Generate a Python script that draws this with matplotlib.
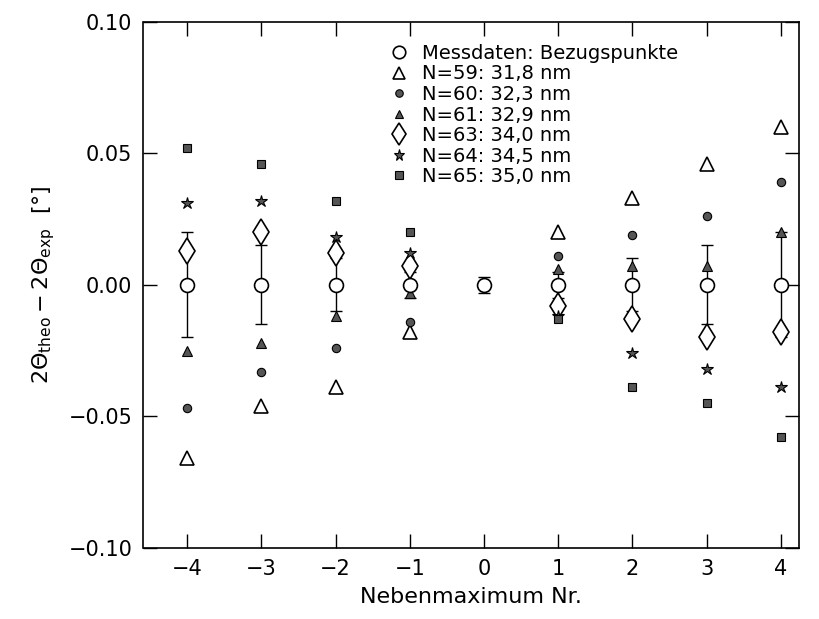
import numpy as np
import matplotlib
matplotlib.use('Agg')
import matplotlib.pyplot as plt

plt.rcParams['font.family'] = ['DejaVu Sans']
plt.rcParams['mathtext.fontset'] = 'dejavusans'

# Messdaten (Bezugspunkte)
x_meas = [-4, -3, -2, -1, 0, 1, 2, 3, 4]
y_meas = [0, 0, 0, 0, 0, 0, 0, 0, 0]
err_meas = [0.020, 0.015, 0.010, 0.005, 0.003, 0.005, 0.010, 0.015, 0.020]

# theoretische Werte
x_theo = [-4, -3, -2, -1, 1, 2, 3, 4]
n59 = [-0.066, -0.046, -0.039, -0.018, 0.020, 0.033, 0.046, 0.060]
n60 = [-0.047, -0.033, -0.024, -0.014, 0.011, 0.019, 0.026, 0.039]
n61 = [-0.025, -0.022, -0.012, -0.003, 0.006, 0.007, 0.007, 0.020]
n63 = [0.013, 0.020, 0.012, 0.007, -0.008, -0.013, -0.020, -0.018]
n64 = [0.031, 0.032, 0.018, 0.012, -0.012, -0.026, -0.032, -0.039]
n65 = [0.052, 0.046, 0.032, 0.020, -0.013, -0.039, -0.045, -0.058]

labels = ['Messdaten: Bezugspunkte', 'N=59: 31,8 nm', 'N=60: 32,3 nm',
          'N=61: 32,9 nm', 'N=63: 34,0 nm', 'N=64: 34,5 nm', 'N=65: 35,0 nm']

fig = plt.figure(figsize=(8.2, 6.19), dpi=100)
ax = fig.add_axes([0.175, 0.115, 0.799, 0.85])

grey = '#555555'
ax.errorbar(x_meas, y_meas, yerr=err_meas, fmt='none', ecolor='black',
            elinewidth=1.0, capsize=4, capthick=1.0, zorder=2)
h0, = ax.plot(x_meas, y_meas, 'o', ms=10, mfc='white', mec='black', mew=1.2,
              ls='none', zorder=4, label=labels[0])
h1, = ax.plot(x_theo, n59, '^', ms=10, mfc='white', mec='black', mew=1.2,
              ls='none', zorder=3, label=labels[1])
h2, = ax.plot(x_theo, n60, 'o', ms=6, mfc=grey, mec='black', mew=0.8,
              ls='none', zorder=3, label=labels[2])
h3, = ax.plot(x_theo, n61, '^', ms=7, mfc=grey, mec='black', mew=0.8,
              ls='none', zorder=3, label=labels[3])
h4, = ax.plot(x_theo, n63, 'd', ms=13, mfc='white', mec='black', mew=1.2,
              ls='none', zorder=3, label=labels[4])
h5, = ax.plot(x_theo, n64, '*', ms=9, mfc=grey, mec='black', mew=0.8,
              ls='none', zorder=3, label=labels[5])
h6, = ax.plot(x_theo, n65, 's', ms=6, mfc=grey, mec='black', mew=0.8,
              ls='none', zorder=3, label=labels[6])

ax.set_xlim(-4.59, 4.24)
ax.set_ylim(-0.10, 0.10)
ax.set_xticks(x_meas)
ax.set_xticklabels(['\u2212%d' % -v if v < 0 else str(v) for v in x_meas])
ax.set_yticks([-0.10, -0.05, 0.0, 0.05, 0.10])
ax.set_yticklabels(['\u22120.10', '\u22120.05', '0.00', '0.05', '0.10'])
ax.tick_params(direction='in', length=10, width=1.0, top=True, right=True,
               labelsize=15, pad=8)
for s in ax.spines.values():
    s.set_linewidth(1.2)

ax.set_xlabel('Nebenmaximum Nr.', fontsize=16, labelpad=6)
ax.set_ylabel(r'$2\Theta_{\rm theo}-2\Theta_{\rm exp}$  [°]', fontsize=16, labelpad=8)

leg = ax.legend(handles=[h0, h1, h2, h3, h4, h5, h6], loc='upper left',
                bbox_to_anchor=(0.357, 0.98), frameon=False, fontsize=14,
                handlelength=1.0, handletextpad=0.7, labelspacing=0.08,
                borderaxespad=0.2, markerscale=0.9)

fig.savefig('out.png', dpi=100)
